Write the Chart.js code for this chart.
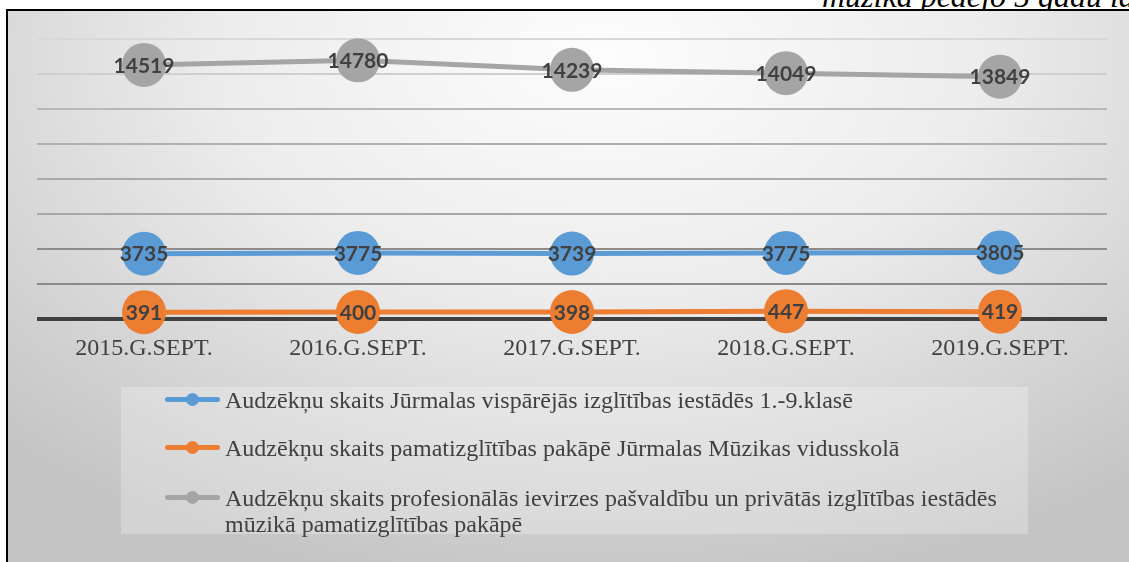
<!DOCTYPE html>
<html>
<head>
<meta charset="utf-8">
<script src="https://cdn.jsdelivr.net/npm/chart.js@4.4.0/dist/chart.umd.min.js"></script>
<style>
    html, body { margin: 0; padding: 0; width: 1129px; height: 562px; overflow: hidden; background: #fff; }
    #note {
        position: absolute; left: 822px; top: -20px; white-space: nowrap;
        font: italic 32px "Liberation Serif", serif; line-height: 32px; color: #000;
    }
    #frame {
        position: absolute; left: 6px; top: 9px; width: 1140px; height: 570px;
        border-left: 2px solid #000; border-top: 2px solid #000;
        background: radial-gradient(ellipse 75% 95% at 52% 8%, #fdfdfd 0%, #ececec 45%, #d2d2d2 80%, #c4c4c4 100%);
    }
    #wrap { position: absolute; left: 0; top: 0; width: 1129px; height: 562px; }
    #legend {
        position: absolute; left: 121px; top: 387px; width: 907px; height: 147px;
        background: rgba(255, 255, 255, 0.25);
        font-family: "Liberation Serif", serif; font-size: 24px; line-height: 26px; color: #404040;
    }
    .item { position: absolute; left: 104px; }
    .sym { position: absolute; left: -60px; top: 10px; width: 55px; height: 5px; border-radius: 3px; }
    .sym i { position: absolute; left: 21px; top: -4px; width: 13px; height: 13px; border-radius: 50%; background: inherit; }
</style>
</head>
<body>
<div id="note">mūzikā pēdējo 5 gadu laikā</div>
<div id="frame"></div>
<div id="wrap"><canvas id="chart" width="1129" height="562"></canvas></div>
<div id="legend"></div>
<script>
const years = ['2015.G.SEPT.', '2016.G.SEPT.', '2017.G.SEPT.', '2018.G.SEPT.', '2019.G.SEPT.'];
const seriesNames = [
    'Audzēkņu skaits Jūrmalas vispārējās izglītības iestādēs 1.-9.klasē',
    'Audzēkņu skaits pamatizglītības pakāpē Jūrmalas Mūzikas vidusskolā',
    'Audzēkņu skaits profesionālās ievirzes pašvaldību un privātās izglītības iestādēs mūzikā pamatizglītības pakāpē',
];
const general = [3735, 3775, 3739, 3775, 3805];
const musicSchool = [391, 400, 398, 447, 419];
const professional = [14519, 14780, 14239, 14049, 13849];
const colors = ['#5b9bd5', '#ed7d31', '#a5a5a5'];

const gridColors = {
    0: '#404040', 2000: '#8a8a8a', 4000: '#8c8c8c', 6000: '#a8a8a8',
    8000: '#aaaaaa', 10000: '#b0b0b0', 12000: '#b8b8b8', 14000: '#cfcfcf', 16000: '#d8d8d8',
};

// values written on top of each marker
const pointLabels = {
    id: 'pointLabels',
    afterDatasetsDraw(chart) {
        const c = chart.ctx;
        c.save();
        c.font = 'bold 21px Lato';
        c.fillStyle = '#404040';
        c.textAlign = 'center';
        c.textBaseline = 'middle';
        chart.data.datasets.forEach((ds, i) => {
            chart.getDatasetMeta(i).data.forEach((pt, j) => {
                c.fillText(String(ds.data[j]), pt.x, pt.y + 1);
            });
        });
        c.restore();
    },
};

const makeSet = (label, data, color) => ({
    label, data,
    borderColor: color,
    backgroundColor: color,
    pointBackgroundColor: color,
    pointBorderWidth: 0,
    pointRadius: 22,
    pointHoverRadius: 22,
    borderWidth: 5,
    tension: 0,
    clip: false,
});

new Chart(document.getElementById('chart'), {
    type: 'line',
    data: {
        labels: years,
        datasets: [
            makeSet(seriesNames[0], general, colors[0]),
            makeSet(seriesNames[1], musicSchool, colors[1]),
            makeSet(seriesNames[2], professional, colors[2]),
        ],
    },
    options: {
        responsive: false,
        animation: false,
        events: [],
        layout: { padding: { left: 37, right: 15, top: 39, bottom: 192 } },
        plugins: { legend: { display: false }, tooltip: { enabled: false } },
        scales: {
            x: {
                offset: true,
                grid: { display: false },
                border: { display: false },
                ticks: {
                    color: '#404040',
                    font: { family: 'Liberation Serif', size: 24 },
                    padding: 7,
                    maxRotation: 0,
                },
                afterFit: (s) => { s.height = 51; },
            },
            y: {
                min: 0,
                max: 16000,
                ticks: { display: false, stepSize: 2000 },
                border: { display: false },
                grid: {
                    drawTicks: false,
                    color: (ctx) => gridColors[ctx.tick.value] || '#bbbbbb',
                    lineWidth: (ctx) => (ctx.tick.value === 0 ? 4 : 2),
                },
                afterFit: (s) => { s.width = 0; },
            },
        },
    },
    plugins: [pointLabels],
});

// legend (HTML so the long label can wrap)
const legend = document.getElementById('legend');
const tops = [0, 48, 98];
seriesNames.forEach((name, i) => {
    const item = document.createElement('div');
    item.className = 'item';
    item.style.top = tops[i] + 'px';
    item.style.width = '800px';
    const sym = document.createElement('span');
    sym.className = 'sym';
    sym.style.background = colors[i];
    sym.appendChild(document.createElement('i'));
    item.appendChild(sym);
    item.appendChild(document.createTextNode(name));
    legend.appendChild(item);
});
</script>
</body>
</html>
